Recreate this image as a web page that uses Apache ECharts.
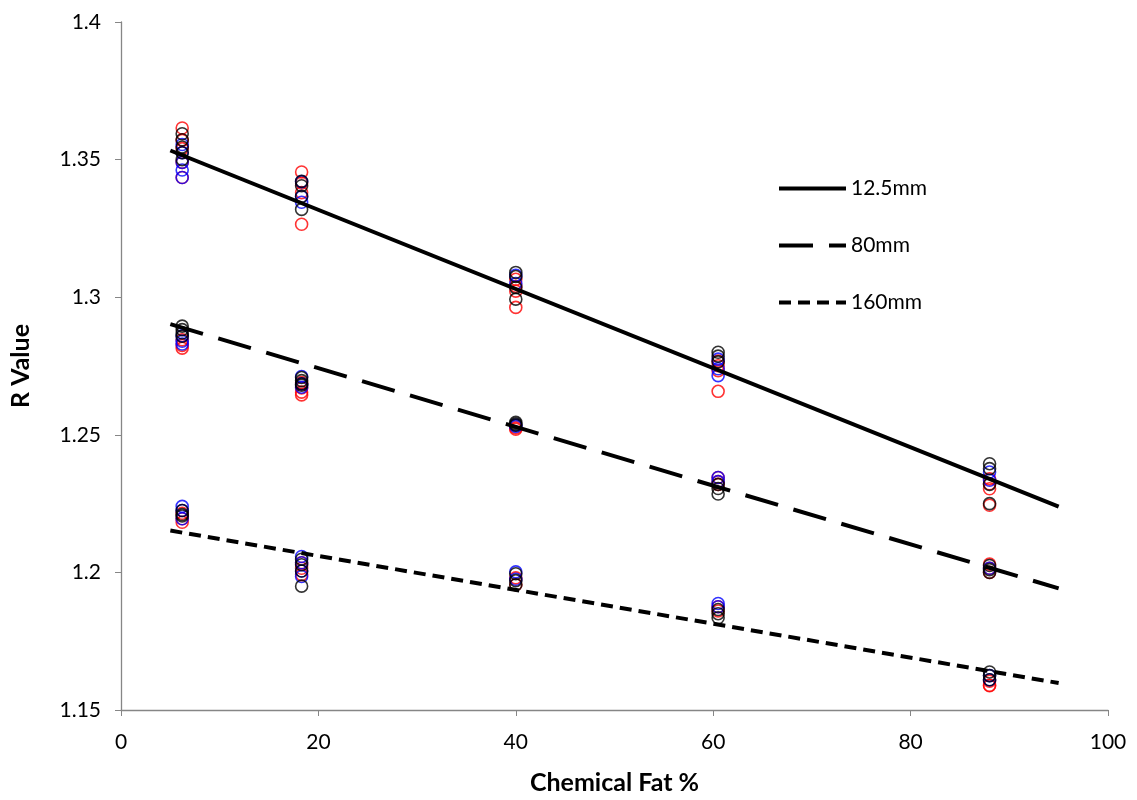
<!DOCTYPE html>
<html><head><meta charset="utf-8">
<script src="https://cdn.jsdelivr.net/npm/echarts@6/dist/echarts.min.js"></script>
<style>html,body{margin:0;padding:0;background:#fff}#c{width:1137px;height:800px}</style>
</head><body><div id="c"></div>
<script>
// Fat % positions of the five samples
const fatX = [6.2, 18.3, 40, 60.5, 88];
// Measured R values per sample (index matches fatX), per colour
const redVals = [
  [1.3615, 1.357, 1.354, 1.349, 1.3435, 1.2845, 1.2825, 1.2815, 1.2215, 1.2195, 1.2182],
  [1.3455, 1.3415, 1.338, 1.3265, 1.269, 1.267, 1.2655, 1.2645, 1.2035, 1.2015, 1.1992],
  [1.3065, 1.304, 1.3022, 1.2963, 1.2525, 1.252, 1.198, 1.1955],
  [1.2768, 1.2751, 1.2733, 1.2658, 1.2345, 1.233, 1.232, 1.1875, 1.186],
  [1.234, 1.2322, 1.2304, 1.2244, 1.203, 1.2015, 1.2, 1.1605, 1.159, 1.1588]
];
const blueVals = [
  [1.3555, 1.3525, 1.349, 1.3462, 1.3435, 1.286, 1.284, 1.283, 1.224, 1.2225, 1.2195],
  [1.342, 1.3365, 1.3345, 1.2712, 1.2685, 1.2673, 1.2058, 1.2035, 1.2005, 1.1985],
  [1.308, 1.305, 1.2535, 1.253, 1.2002, 1.1975],
  [1.2775, 1.274, 1.2715, 1.2345, 1.233, 1.1887, 1.1875],
  [1.2365, 1.2335, 1.2015, 1.1625, 1.161]
];
const blackVals = [
  [1.3594, 1.3572, 1.3546, 1.3525, 1.35, 1.2895, 1.2882, 1.287, 1.2858, 1.2225, 1.221, 1.2205],
  [1.3421, 1.3405, 1.3367, 1.3319, 1.2708, 1.2697, 1.2685, 1.268, 1.2048, 1.2028, 1.2005, 1.195],
  [1.309, 1.3075, 1.3035, 1.2993, 1.2545, 1.254, 1.2535, 1.1995, 1.197, 1.1955],
  [1.28, 1.2786, 1.2765, 1.232, 1.2305, 1.2285, 1.1865, 1.185, 1.1835],
  [1.2395, 1.2377, 1.232, 1.225, 1.2025, 1.201, 1.2, 1.1638, 1.1625, 1.161]
];
// Trend line endpoints (fat %, R value)
const trendX = [5, 95];
const trend125 = [1.3533, 1.2239];
const trend80 = [1.2902, 1.1942];
const trend160 = [1.2152, 1.1598];
const seriesNames = ['12.5mm', '80mm', '160mm'];

function pts(vals) {
  const out = [];
  vals.forEach((arr, i) => arr.forEach(v => out.push([fatX[i], v])));
  return out;
}
function line(ys) { return trendX.map((x, i) => [x, ys[i]]); }

const FONT = 'Lato, "Open Sans", sans-serif';
const scatterBase = (name, color, data) => ({
  name, type: 'scatter', data, symbol: 'circle', symbolSize: 12,
  itemStyle: { color: 'rgba(0,0,0,0)', borderColor: color, borderWidth: 1.6 },
  z: 2
});
const lineBase = (name, data, dash) => ({
  name, type: 'line', data: line(data), symbol: 'none', silent: true, color: '#000',
  lineStyle: { color: '#000', width: 4, type: dash }, z: 3
});

const chart = echarts.init(document.getElementById('c'), null, { renderer: 'canvas' });
chart.setOption({
  animation: false,
  backgroundColor: '#fff',
  grid: { left: 120, right: 29, top: 22, bottom: 84 },
  legend: {
    data: seriesNames,
    orient: 'vertical', left: 772, top: 173,
    itemWidth: 67, itemHeight: 14, itemGap: 36,
    itemStyle: { opacity: 0 },
    lineStyle: { width: 4, color: '#000' },
    textStyle: { fontFamily: FONT, fontSize: 21, color: '#000' }
  },
  xAxis: {
    type: 'value', min: 0, max: 100, interval: 20,
    name: 'Chemical Fat %', nameLocation: 'middle', nameGap: 60,
    nameTextStyle: { fontFamily: FONT, fontSize: 25, fontWeight: 'bold', color: '#000' },
    axisLine: { lineStyle: { color: '#868686', width: 1.3 } },
    axisTick: { show: true, length: 6, inside: false, lineStyle: { color: '#868686' } },
    axisLabel: { fontFamily: FONT, fontSize: 21, color: '#000', margin: 22 },
    splitLine: { show: false }
  },
  yAxis: {
    type: 'value', min: 1.15, max: 1.4, interval: 0.05,
    name: 'R Value', nameLocation: 'middle', nameGap: 88, nameRotate: 90,
    nameTextStyle: { fontFamily: FONT, fontSize: 25, fontWeight: 'bold', color: '#000' },
    axisLine: { show: true, lineStyle: { color: '#868686', width: 1.3 } },
    axisTick: { show: true, length: 6, lineStyle: { color: '#868686' } },
    axisLabel: { fontFamily: FONT, fontSize: 21, color: '#000', margin: 20,
      formatter: v => String(+v.toFixed(2)) },
    splitLine: { show: false }
  },
  series: [
    scatterBase('red', '#ff0000', pts(redVals)),
    scatterBase('blue', '#0000ff', pts(blueVals)),
    scatterBase('black', '#000000', pts(blackVals)),
    lineBase(seriesNames[0], trend125, 'solid'),
    lineBase(seriesNames[1], trend80, [34, 16]),
    lineBase(seriesNames[2], trend160, [12, 7])
  ]
});
</script></body></html>
